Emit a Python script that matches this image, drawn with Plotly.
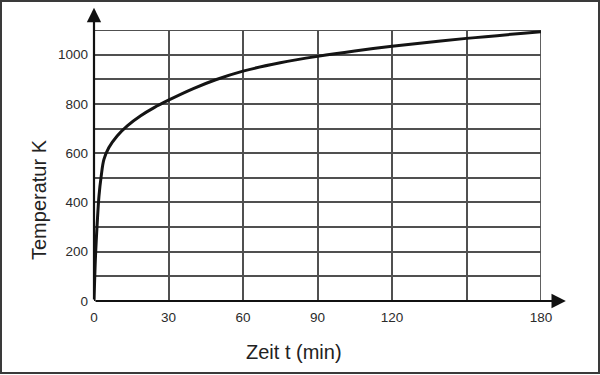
import plotly.graph_objects as go

# Data
zeit_min = [0, 0.6, 1.3, 2.0, 2.9, 4.0, 6.0, 9.4, 13.4, 18.8, 24.2, 30, 40, 49, 60, 75, 90, 105, 120, 150, 180]
temperatur_k = [0, 181, 317, 426, 507, 575, 623, 671, 711, 752, 785, 815, 862, 898, 933, 967, 993, 1015, 1034, 1066, 1093]

x_grid = [0, 30, 60, 90, 120, 150, 180]
x_labels = ["0", "30", "60", "90", "120", "", "180"]
y_grid = list(range(0, 1101, 100))
y_labels = [str(v) if v % 200 == 0 and v <= 1000 else "" for v in y_grid]

FONT = "Liberation Sans, Arial, sans-serif"
GRID = "#505050"

fig = go.Figure()
fig.add_trace(go.Scatter(
    x=zeit_min, y=temperatur_k, mode="lines",
    line=dict(color="#141414", width=3, shape="spline", smoothing=1.0),
    hoverinfo="skip", showlegend=False,
))

W, H = 600, 375
L, R, T, B = 94, 59, 30, 74
pw, ph = W - L - R, H - T - B

def px(xp):
    return (xp - L) / pw

def py(yp):
    return (H - B - yp) / ph

fig.update_layout(
    width=W, height=H,
    margin=dict(l=L, r=R, t=T, b=B),
    paper_bgcolor="white", plot_bgcolor="white",
    showlegend=False,
    xaxis=dict(
        range=[0, 180], tickvals=x_grid, ticktext=x_labels,
        showgrid=True, gridcolor=GRID, gridwidth=1.8,
        zeroline=False, showline=False, ticks="",
        ticklabelstandoff=6,
        tickfont=dict(family=FONT, size=13.5, color="#2b2b2b"),
        fixedrange=True,
    ),
    yaxis=dict(
        range=[0, 1100], tickvals=y_grid, ticktext=y_labels,
        showgrid=True, gridcolor=GRID, gridwidth=1.8,
        zeroline=False, showline=False, ticks="",
        ticklabelstandoff=5,
        tickfont=dict(family=FONT, size=13.5, color="#2b2b2b"),
        fixedrange=True,
    ),
)

# Top and right border lines of the grid
fig.add_shape(type="line", xref="x", yref="y", x0=0, x1=180, y0=1100, y1=1100,
              line=dict(color=GRID, width=1.8), layer="below")
fig.add_shape(type="line", xref="x", yref="y", x0=180, x1=180, y0=0, y1=1100,
              line=dict(color=GRID, width=1.8), layer="below")

# Axes with arrowheads
fig.add_annotation(x=190, y=0, ax=0, ay=0, xref="x", yref="y", axref="x", ayref="y",
                   showarrow=True, arrowhead=2, arrowsize=1.3, arrowwidth=2.2,
                   arrowcolor="#111111", text="")
fig.add_annotation(x=0, y=1190, ax=0, ay=0, xref="x", yref="y", axref="x", ayref="y",
                   showarrow=True, arrowhead=2, arrowsize=1.3, arrowwidth=2.2,
                   arrowcolor="#111111", text="")

# Axis titles
fig.add_annotation(text="Zeit t (min)", xref="paper", yref="paper",
                   x=px(294), y=py(352), showarrow=False,
                   font=dict(family=FONT, size=20, color="#222222"),
                   xanchor="center", yanchor="middle")
fig.add_annotation(text="Temperatur K", xref="paper", yref="paper",
                   x=px(39), y=py(200), showarrow=False, textangle=-90,
                   font=dict(family=FONT, size=20, color="#222222"),
                   xanchor="center", yanchor="middle")

# Outer frame
fig.add_shape(type="rect", xref="paper", yref="paper",
              x0=px(1), x1=px(599), y0=py(373), y1=py(1),
              line=dict(color="#3a3a3a", width=2), fillcolor="rgba(0,0,0,0)")

fig.write_html("out.html", config={"displayModeBar": False},
               post_script="document.body.style.margin='0';")
